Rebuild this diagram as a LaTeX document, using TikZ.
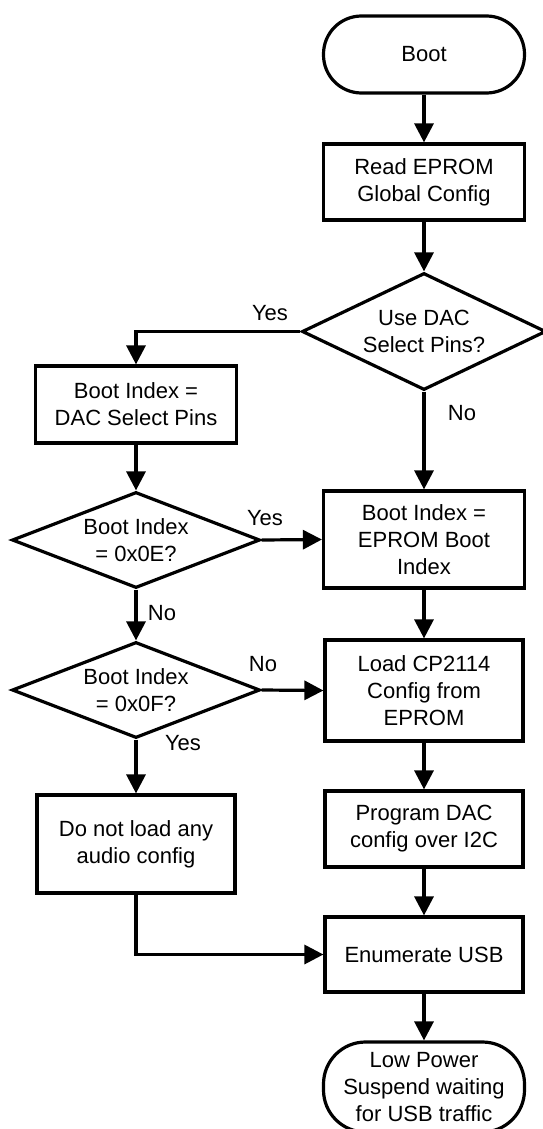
\documentclass[tikz,border=0pt]{standalone}
\usepackage{fontspec}
\setmainfont{Liberation Sans}
\usetikzlibrary{shapes.geometric,arrows.meta}
\def\boxw{201pt}
\def\leftx{136}
\def\rightx{424}

\begin{document}
\begin{tikzpicture}[x=1pt, y=-1pt, line width=3.2pt,
  nodes = {font=\fontsize{22}{27}\selectfont, align=center},
  proc/.style = {draw, rectangle, minimum width=\boxw, inner sep=2pt},
  term/.style = {draw, rectangle, minimum width=\boxw, inner sep=2pt},
  test/.style = {draw, diamond, inner sep=0pt},
  flow/.style = {-{Triangle[length=19pt,width=19pt]}}]
\useasboundingbox (0,0) rectangle (543,1129);

% right column
\node[term, minimum height=77pt, rounded corners=38pt] (boot) at (\rightx,54.5) {Boot};
\node[proc, minimum height=76pt] (read) at (\rightx,182) {Read EPROM\\Global Config};
\node[test, minimum width=244pt, minimum height=117pt, aspect=2] (usedac) at (\rightx,331.5) {Use DAC\\Select Pins?};
\node[proc, minimum height=97pt] (eprombi) at (\rightx,539.5) {Boot Index =\\EPROM Boot\\Index};
\node[proc, minimum height=101pt, minimum width=198pt] (loadcfg) at (\rightx,690.5) {Load CP2114\\Config from\\EPROM};
\node[proc, minimum height=76pt, minimum width=198pt] (progdac) at (\rightx,829) {Program DAC\\config over I2C};
\node[proc, minimum height=75pt, minimum width=198pt] (enum) at (\rightx,954.5) {Enumerate USB};
\node[term, minimum height=90pt, rounded corners=42pt] (lowpow) at (\rightx,1087) {Low Power\\Suspend waiting\\for USB traffic};

% left column
\node[proc, minimum height=77pt] (dacpins) at (\leftx,404.5) {Boot Index =\\DAC Select Pins};
\node[test, minimum width=248pt, minimum height=96pt, aspect=2.5] (chkE) at (\leftx,540) {Boot Index\\= 0x0E?};
\node[test, minimum width=248pt, minimum height=96pt, aspect=2.5] (chkF) at (\leftx,690) {Boot Index\\= 0x0F?};
\node[proc, minimum height=98pt, minimum width=198pt] (noload) at (\leftx,844) {Do not load any\\audio config};

% straight down
\foreach \from/\to in {boot/read, read/usedac, usedac/eprombi, eprombi/loadcfg,
  loadcfg/progdac, progdac/enum, enum/lowpow, dacpins/chkE, chkE/chkF, chkF/noload}
  \draw[flow] (\from.south) -- (\to.north);

% branches
\draw[flow] (usedac.west) -| (dacpins.north);
\draw[flow] (chkE.east) -- (eprombi.west);
\draw[flow] (chkF.east) -- (loadcfg.west);
\draw[flow] (noload.south) |- (enum.west);

% yes / no labels
\foreach \lx/\ly/\txt/\nm in {270/313/Yes/yesA, 462/413/No/noA, 265/518/Yes/yesB,
  162/613/No/noB, 263/664/No/noC, 183/743/Yes/yesC}
  \node (\nm) at (\lx,\ly) {\txt};
\end{tikzpicture}
\end{document}
